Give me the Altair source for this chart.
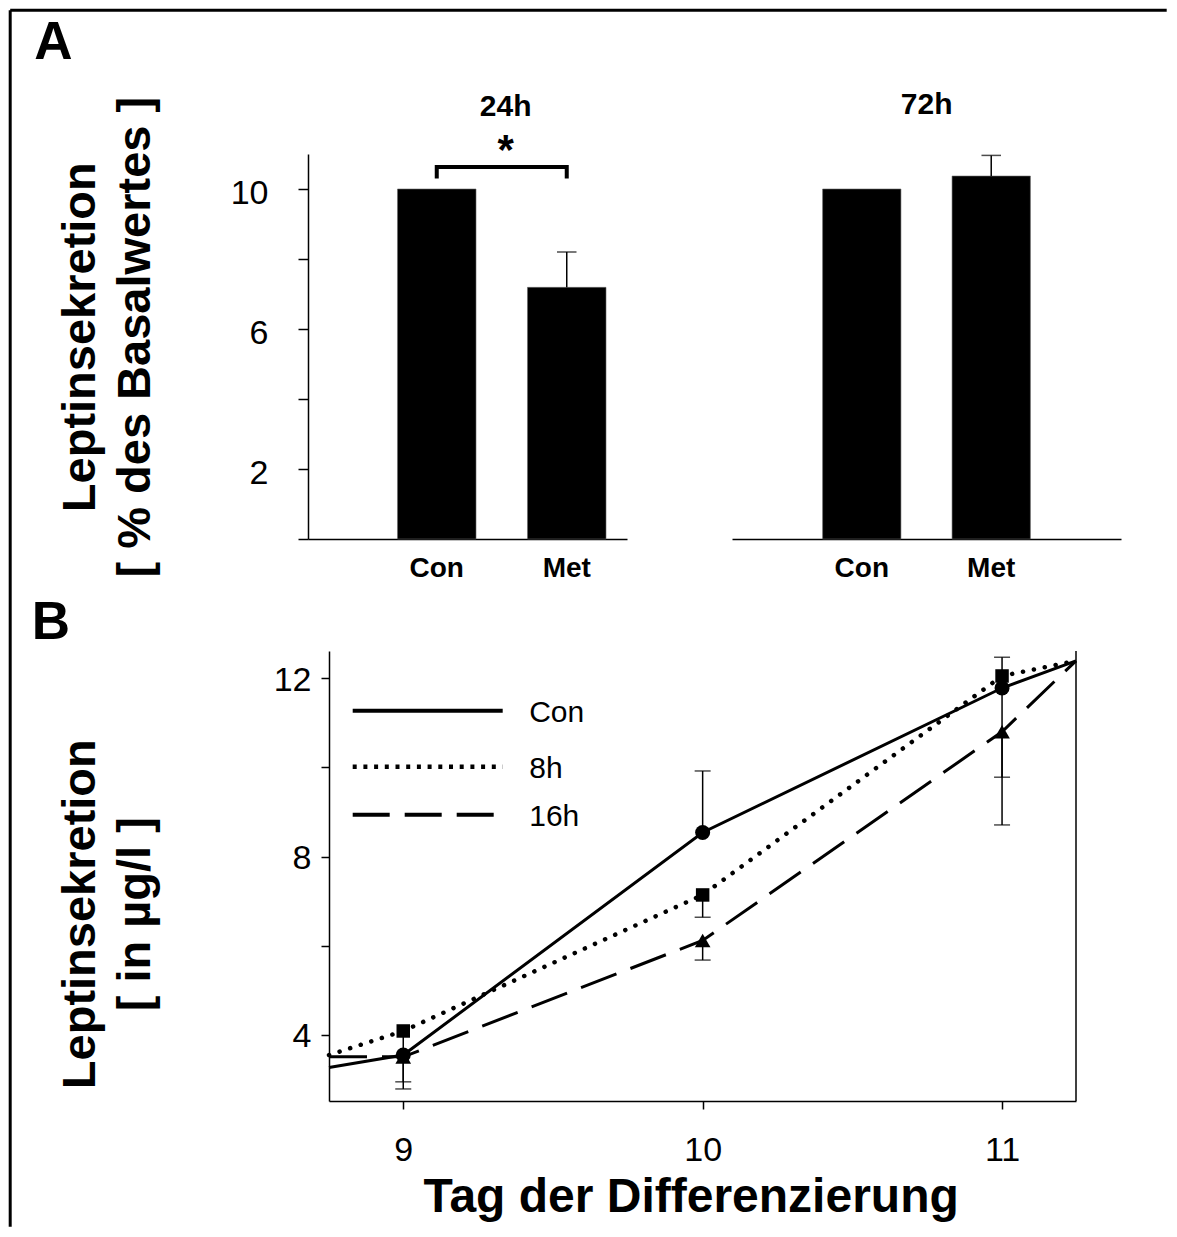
import altair as alt
import pandas as pd

FONT = "Liberation Sans"

# ---------------- Panel A data ----------------
groups = ["Con", "Met"]
a24_means = [10.0, 7.19]
a24_err_top = [None, 8.20]
a72_means = [10.0, 10.37]
a72_err_top = [None, 10.96]
a_tick_values = [0, 2, 4, 6, 8, 10]
a_tick_labels = [2, 6, 10]
a_panel_titles = ["24h", "72h"]
sig_groups = ["Con", "Con", "Met", "Met"]
sig_levels = [10.30, 10.63, 10.63, 10.30]
sig_order = [0, 1, 2, 3]
sig_mark = ["*"]
a_y_title = ["Leptinsekretion", "[ % des Basalwertes ]"]

# ---------------- Panel B data ----------------
days = [9, 10, 11]
series = ["Con", "8h", "16h"]
con_means = [3.55, 8.54, 11.78]
h8_means = [4.09, 7.14, 12.05]
h16_means = [3.51, 6.12, 10.80]
edge_days = [8.752, 11.247]
con_edge_values = [3.27, 12.39]
h8_edge_values = [3.55, 12.39]
h16_edge_values = [3.51, 12.39]
err_days = [9, 9, 10, 10, 10, 11, 11, 11]
err_series = ["Con", "8h", "Con", "8h", "16h", "Con", "8h", "16h"]
err_ends = [2.79, 2.95, 9.92, 6.64, 5.68, 9.78, 12.47, 8.71]
b_tick_values = [4, 6, 8, 10, 12]
b_tick_labels = [4, 8, 12]
b_y_domain = [2.52, 12.61]
b_y_title = ["Leptinsekretion", "[ in µg/l ]"]
b_x_title = "Tag der Differenzierung"
panel_letters = ["A", "B"]

# ---------------- layout (pixels) ----------------
A_W1, A_W2, A_H = 319, 389, 385
A_GAP = 105
A_W = A_W1 + A_GAP + A_W2
B_W, B_H = 747, 450
B_SHIFT = 21
ROW_GAP = 112
A_X0, A_Y0 = 307.3, 153.3            # page position of the 24h plot area
B_X0, B_Y0 = A_X0 + B_SHIFT, A_Y0 + A_H + ROW_GAP


def label_expr(shown):
    return "indexof([" + ",".join(str(v) for v in shown) + "], datum.value) >= 0 ? datum.label : ''"


one = pd.DataFrame({"k": [0]})

# ================= Panel A (one view, two x scales) =================
a_y = alt.Scale(domain=[0, 11], nice=False, zero=True)

x_axis_a = alt.Axis(title=None, ticks=False, tickSize=0, labelAngle=0, labelFontSize=28,
                    labelFontWeight="bold", labelPadding=15, domainWidth=1.5, orient="bottom")

y_axis_a = alt.Axis(values=a_tick_values, labelExpr=label_expr(a_tick_labels), tickSize=10,
                    tickWidth=1.5, domainWidth=1.5, labelFontSize=34, labelPadding=30,
                    labelOffset=4, grid=False, title=a_y_title, titleFontSize=47,
                    titleFontWeight="bold", titleAngle=270, titleAlign="center",
                    titleBaseline="alphabetic", titleLineHeight=55,
                    titleX=93.5 - A_X0, titleY=336 - A_Y0)

A24 = dict(rng=[0, A_W1], pin=0.396, pout=0.425, align=0.81)
A72 = dict(rng=[A_W1 + A_GAP, A_W], pin=0.395, pout=0.70, align=0.5)


def x_band(cfg, axis=False):
    sc = alt.Scale(domain=groups, range=cfg["rng"], paddingInner=cfg["pin"],
                   paddingOuter=cfg["pout"], align=cfg["align"])
    if axis:
        return alt.X("group:N", sort=groups, scale=sc, axis=x_axis_a)
    return alt.X("group:N", sort=groups, scale=sc)


def y_enc(field, axis=None):
    if axis is not None:
        return alt.Y(field, scale=a_y, axis=axis)
    return alt.Y(field, scale=a_y)


def bar_panel(means, tops, cfg, y_axis):
    df = pd.DataFrame({"group": groups, "mean": means, "top": tops})
    err = df.dropna()
    bars = alt.Chart(df).mark_bar(color="black", stroke="#666666", strokeWidth=0.6).encode(
        x=x_band(cfg, axis=True),
        y=y_enc("mean:Q", y_axis),
    )
    rule = alt.Chart(err).mark_rule(color="black", strokeWidth=1.5).encode(
        x=x_band(cfg), y=y_enc("mean:Q"), y2="top:Q")
    cap = alt.Chart(err).mark_tick(color="black", orient="horizontal", size=19.5, thickness=1.5).encode(
        x=x_band(cfg), y=y_enc("top:Q"))
    return [bars, rule, cap]


sig_df = pd.DataFrame({"group": sig_groups, "level": sig_levels, "order": sig_order})
sig_line = alt.Chart(sig_df).mark_line(color="black", strokeWidth=4).encode(
    x=x_band(A24), y=y_enc("level:Q"), order="order:Q")

l24 = alt.layer(*bar_panel(a24_means, a24_err_top, A24, y_axis_a), sig_line)
l72 = alt.layer(*bar_panel(a72_means, a72_err_top, A72, None))

sig_text = alt.Chart(pd.DataFrame({"t": sig_mark})).mark_text(
    fontSize=42, fontWeight="bold", align="center", baseline="alphabetic").encode(
    text="t:N", x=alt.value(505 - A_X0), y=alt.value(163.4 - A_Y0))
title24 = alt.Chart(pd.DataFrame({"t": [a_panel_titles[0]]})).mark_text(
    fontSize=30, fontWeight="bold", align="center", baseline="middle").encode(
    text="t:N", x=alt.value(505 - A_X0), y=alt.value(106 - A_Y0))
title72 = alt.Chart(pd.DataFrame({"t": [a_panel_titles[1]]})).mark_text(
    fontSize=30, fontWeight="bold", align="center", baseline="middle").encode(
    text="t:N", x=alt.value(926 - A_X0), y=alt.value(104 - A_Y0))
letter_a = alt.Chart(pd.DataFrame({"t": [panel_letters[0]]})).mark_text(
    fontSize=53, fontWeight="bold", align="left", baseline="alphabetic").encode(
    text="t:N", x=alt.value(33.5 - A_X0), y=alt.value(58.3 - A_Y0))
frame_left = alt.Chart(one).mark_rule(color="black", strokeWidth=3).encode(
    x=alt.value(9.5 - A_X0), y=alt.value(9.5 - A_Y0), y2=alt.value(1226 - A_Y0))
frame_top = alt.Chart(one).mark_rule(color="black", strokeWidth=3).encode(
    x=alt.value(9.5 - A_X0), x2=alt.value(1166 - A_X0), y=alt.value(9.5 - A_Y0))

row_a = alt.layer(l24, l72, sig_text, title24, title72, letter_a, frame_left, frame_top).resolve_scale(
    x="independent").properties(width=A_W, height=A_H)

# ================= Panel B =================
b_xs = alt.Scale(domain=edge_days, nice=False, zero=False)
b_ys = alt.Scale(domain=b_y_domain, nice=False, zero=False)

x_axis_b = alt.Axis(values=days, format="d", tickSize=8, tickWidth=1.5, domainWidth=1.5,
                    labelFontSize=34, labelPadding=24, labelFlush=False, grid=False,
                    title=b_x_title, titleFontSize=48, titleFontWeight="bold",
                    titleAlign="center", titleBaseline="alphabetic",
                    titleX=690 - B_X0, titleY=1211 - (B_Y0 + B_H))
y_axis_b = alt.Axis(values=b_tick_values, labelExpr=label_expr(b_tick_labels), tickSize=8,
                    tickWidth=1.5, domainWidth=1.5, labelFontSize=34, labelPadding=10,
                    labelOffset=2, grid=False, title=b_y_title, titleFontSize=47,
                    titleFontWeight="bold", titleAngle=270, titleAlign="center",
                    titleBaseline="alphabetic", titleLineHeight=55,
                    titleX=93.5 - B_X0, titleY=913 - B_Y0)

means_by_series = {"Con": con_means, "8h": h8_means, "16h": h16_means}
edges_by_series = {"Con": con_edge_values, "8h": h8_edge_values, "16h": h16_edge_values}

err_df = pd.DataFrame({
    "series": err_series,
    "day": err_days,
    "from": [means_by_series[s][days.index(d)] for s, d in zip(err_series, err_days)],
    "to": err_ends,
})

b_layers = []
b_layers.append(alt.Chart(err_df).mark_rule(color="black", strokeWidth=1.5).encode(
    x=alt.X("day:Q", scale=b_xs, axis=x_axis_b),
    y=alt.Y("from:Q", scale=b_ys, axis=y_axis_b),
    y2="to:Q",
))
b_layers.append(alt.Chart(err_df).mark_tick(color="black", orient="horizontal", size=16, thickness=1.5).encode(
    x=alt.X("day:Q", scale=b_xs),
    y=alt.Y("to:Q", scale=b_ys),
))

line_styles = {
    "Con": dict(strokeWidth=3),
    "8h": dict(strokeWidth=4.5, strokeDash=[0.1, 11], strokeCap="round"),
    "16h": dict(strokeWidth=3, strokeDash=[38, 15]),
}
point_styles = {
    "Con": dict(shape="circle", size=225),
    "8h": dict(shape="square", size=182),
    "16h": dict(shape="triangle-up", size=246),
}
legend_styles = {
    "Con": dict(strokeWidth=4),
    "8h": dict(strokeWidth=4.5, strokeDash=[4, 6.7]),
    "16h": dict(strokeWidth=4, strokeDash=[37, 15]),
}
legend_rows_y = [710, 766, 814]

for name in series:
    xs = [edge_days[0]] + days + [edge_days[1]]
    ys = [edges_by_series[name][0]] + means_by_series[name] + [edges_by_series[name][1]]
    line_df = pd.DataFrame({"series": name, "day": xs, "value": ys})
    pt_df = pd.DataFrame({"series": name, "day": days, "value": means_by_series[name]})
    b_layers.append(alt.Chart(line_df).mark_line(color="black", **line_styles[name]).encode(
        x=alt.X("day:Q", scale=b_xs),
        y=alt.Y("value:Q", scale=b_ys),
    ))
    b_layers.append(alt.Chart(pt_df).mark_point(color="black", filled=True, opacity=1, **point_styles[name]).encode(
        x=alt.X("day:Q", scale=b_xs),
        y=alt.Y("value:Q", scale=b_ys),
    ))

for name, ry in zip(series, legend_rows_y):
    ldf = pd.DataFrame({"series": [name]})
    b_layers.append(alt.Chart(ldf).mark_rule(color="black", **legend_styles[name]).encode(
        x=alt.value(352 - B_X0), x2=alt.value(502 - B_X0), y=alt.value(ry - B_Y0)))
    b_layers.append(alt.Chart(ldf).mark_text(fontSize=30, align="left", baseline="middle").encode(
        text="series:N", x=alt.value(528.5 - B_X0), y=alt.value(ry + 2 - B_Y0)))

b_layers.append(alt.Chart(one).mark_rule(color="black", strokeWidth=1.5).encode(
    x=alt.value(B_W), y=alt.value(0), y2=alt.value(B_H)))
b_layers.append(alt.Chart(pd.DataFrame({"t": [panel_letters[1]]})).mark_text(
    fontSize=53, fontWeight="bold", align="left", baseline="alphabetic").encode(
    text="t:N", x=alt.value(31 - B_X0), y=alt.value(638.3 - B_Y0)))

b_chart = alt.layer(*b_layers).properties(width=B_W, height=B_H)

spacer = alt.Chart(one).mark_point(opacity=0).properties(width=B_SHIFT, height=B_H)
row_b = alt.hconcat(spacer, b_chart, spacing=0, bounds="flush")

chart = (
    alt.vconcat(row_a, row_b, spacing=ROW_GAP, bounds="flush")
    .properties(padding=0, background="white")
    .configure_view(stroke=None)
    .configure_axis(labelFont=FONT, titleFont=FONT, labelColor="black", titleColor="black",
                    domainColor="black", tickColor="black", grid=False)
    .configure_text(font=FONT, color="black")
)

chart.save("out.html", embed_options={"renderer": "svg", "actions": False})
